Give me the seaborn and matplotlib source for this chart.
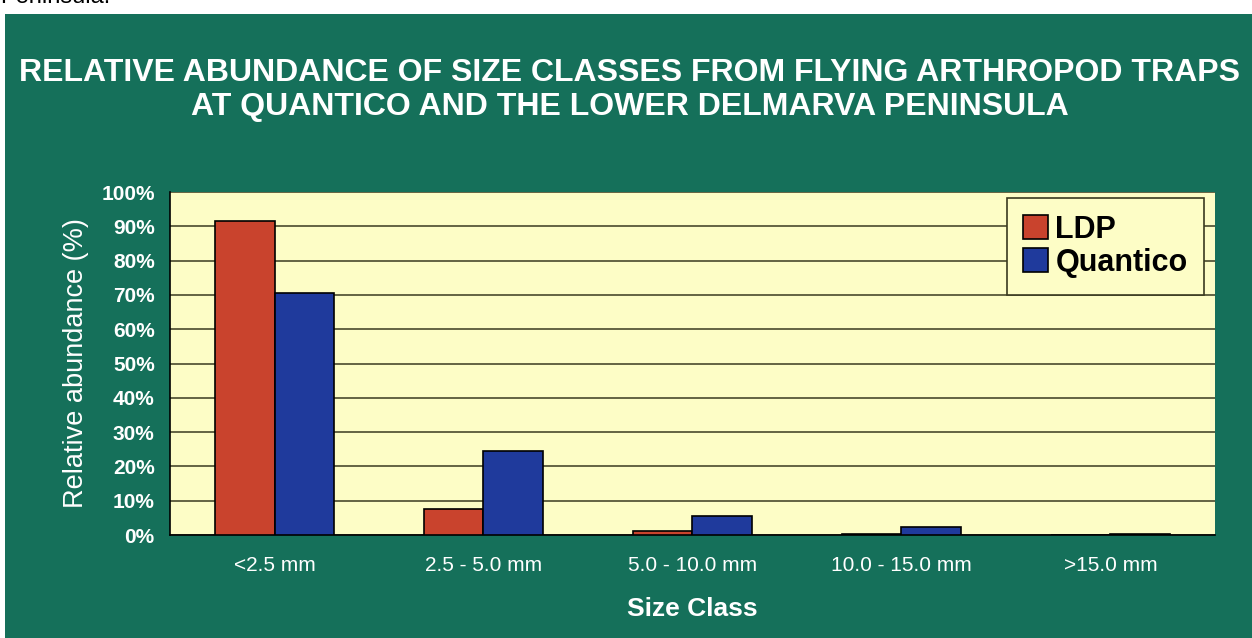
import numpy as np
import pandas as pd
import matplotlib.pyplot as plt
import matplotlib.patches as patches
import seaborn as sns

# Values (percent)
size_classes = ['<2.5 mm', '2.5 - 5.0 mm', '5.0 - 10.0 mm', '10.0 - 15.0 mm', '>15.0 mm']
ldp = [91.5, 7.5, 1.2, 0.2, 0.1]
quantico = [70.5, 24.5, 5.5, 2.2, 0.2]
series_names = ['LDP', 'Quantico']

df = pd.DataFrame({
    'Size Class': size_classes * 2,
    'Abundance': ldp + quantico,
    'Site': [series_names[0]] * len(size_classes) + [series_names[1]] * len(size_classes),
})

sns.set_style('white')
plt.rcParams['font.family'] = ['Liberation Sans', 'DejaVu Sans']

green = '#15705a'
yellow = '#fdfdc6'
palette = {'LDP': '#c9432d', 'Quantico': '#1f3a9c'}

fig = plt.figure(figsize=(12.52, 6.38), dpi=100)
fig.patch.set_facecolor('white')

# Green slide background below the white strip
fig.patches.append(patches.Rectangle((0.004, 0), 0.996, 0.978, transform=fig.transFigure,
                                     facecolor=green, edgecolor='none', zorder=-10))
# Cut-off text of the page above the slide
fig.text(0.0, 1.005, 'Peninsula.', ha='left', va='center', fontsize=17, color='black')

fig.text(0.503, 0.886, 'RELATIVE ABUNDANCE OF SIZE CLASSES FROM FLYING ARTHROPOD TRAPS',
         ha='center', va='center', fontsize=23, fontweight='bold', color='white')
fig.text(0.503, 0.832, 'AT QUANTICO AND THE LOWER DELMARVA PENINSULA',
         ha='center', va='center', fontsize=23, fontweight='bold', color='white')

ax = fig.add_axes([0.1358, 0.1614, 0.8346, 0.5376])
ax.set_facecolor(yellow)

sns.barplot(data=df, x='Size Class', y='Abundance', hue='Site', palette=palette,
            width=0.57, edgecolor='black', linewidth=1.2, saturation=1, ax=ax, zorder=3)

ax.set_ylim(0, 100)
ax.set_xlim(-0.5, len(size_classes) - 0.5)
ax.set_yticks(np.arange(0, 101, 10))
ax.set_yticklabels([f'{v}%' for v in range(0, 101, 10)])
ax.yaxis.grid(True, color='#3a3a20', linewidth=1.1, zorder=1)
ax.set_axisbelow(True)

# Category boundary ticks on the x axis, labels at centres
ax.set_xticks(np.arange(-0.5, len(size_classes), 1), minor=True)
ax.tick_params(axis='x', which='minor', length=6, width=1, color='black', direction='out')
ax.tick_params(axis='x', which='major', length=0, pad=15)
ax.tick_params(axis='y', length=5, width=1, color='black', direction='out', pad=6)

for lbl in ax.get_xticklabels():
    lbl.set_color('white')
    lbl.set_fontsize(15)
for lbl in ax.get_yticklabels():
    lbl.set_color('white')
    lbl.set_fontsize(15)
    lbl.set_fontweight('bold')

ax.set_xlabel('Size Class', color='white', fontsize=19, fontweight='bold', labelpad=16)
ax.set_ylabel('Relative abundance (%)', color='white', fontsize=19.5, labelpad=9)

for side in ['top', 'right']:
    ax.spines[side].set_visible(False)
for side in ['left', 'bottom']:
    ax.spines[side].set_color('black')
    ax.spines[side].set_linewidth(1.2)

leg = ax.legend(loc='upper right', bbox_to_anchor=(0.99, 0.983), borderaxespad=0,
                frameon=True, fancybox=False, edgecolor='#3a3a20', facecolor=yellow,
                framealpha=1, prop={'weight': 'bold', 'size': 22}, labelcolor='black',
                handlelength=0.8, handleheight=0.8, handletextpad=0.25,
                labelspacing=0.1, borderpad=0.55)
leg.get_frame().set_linewidth(1.2)

fig.savefig('out.png', dpi=100, facecolor=fig.get_facecolor())
